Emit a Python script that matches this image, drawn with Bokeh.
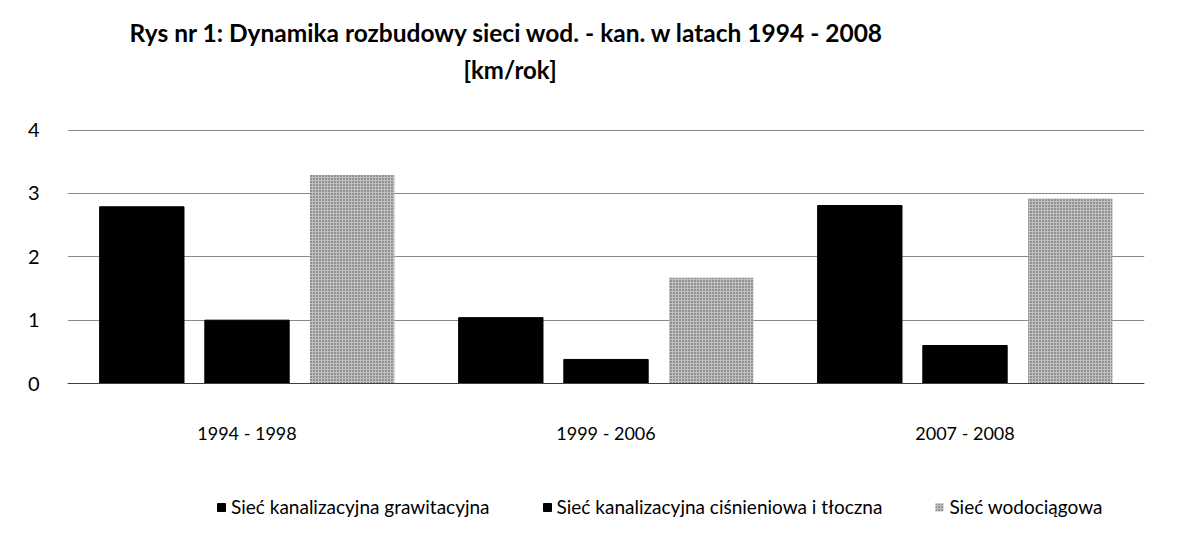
from bokeh.plotting import figure
from bokeh.models import (FactorRange, Range1d, Title, Legend, LegendItem, FixedTicker,
                          CategoricalAxis)
from bokeh.transform import dodge
from bokeh.embed import file_html
from bokeh.resources import INLINE

periods = ["1994 - 1998", "1999 - 2006", "2007 - 2008"]
series_names = ["Sieć kanalizacyjna grawitacyjna",
                "Sieć kanalizacyjna ciśnieniowa i tłoczna",
                "Sieć wodociągowa"]
grawitacyjna = [2.79, 1.04, 2.81]
cisnieniowa = [1.0, 0.38, 0.60]
wodociagowa = [3.29, 1.67, 2.92]
y_ticks = [0, 1, 2, 3, 4]
title_lines = ["Rys nr 1: Dynamika rozbudowy sieci wod. - kan. w latach 1994 - 2008",
               "[km/rok]"]

FONT = "Lato"

# frame extends below zero so the category labels and the legend sit inside it
p = figure(x_range=FactorRange(*periods, range_padding=0), y_range=Range1d(-2.131, 4.01),
           frame_width=1077, frame_height=389, output_backend="svg", toolbar_location=None,
           x_axis_location=None,
           min_border_left=67, min_border_right=19, min_border_top=129,
           min_border_bottom=0)
p.title = None
p.outline_line_color = None

data = dict(x=periods, g=grawitacyjna, c=cisnieniowa, w=wodociagowa)
r1 = p.vbar(x=dodge("x", -0.293, range=p.x_range), top="g", width=0.235, source=data,
            fill_color="black", line_color="black")
r2 = p.vbar(x=dodge("x", 0.0, range=p.x_range), top="c", width=0.235, source=data,
            fill_color="black", line_color="black")
r3 = p.vbar(x=dodge("x", 0.293, range=p.x_range), top="w", width=0.235, source=data,
            fill_color="#c0c0c0", line_color=None,
            hatch_pattern="dot", hatch_color="#4a4a4a", hatch_scale=3, hatch_weight=1)

p.xgrid.grid_line_color = None
p.ygrid.grid_line_color = "#8a8a8a"
p.ygrid.grid_line_width = 1
p.yaxis.ticker = FixedTicker(ticks=y_ticks)
p.yaxis.axis_line_color = None
p.yaxis.major_tick_line_color = None
p.yaxis.minor_tick_line_color = None
p.yaxis.major_tick_out = 0
p.yaxis.major_label_text_font = FONT
p.yaxis.major_label_text_font_size = "20px"
p.yaxis.major_label_text_color = "black"
p.yaxis.major_label_standoff = 28

xaxis = CategoricalAxis(fixed_location=0, axis_line_color="#404040",
                        major_tick_line_color=None, minor_tick_line_color=None,
                        major_label_text_font=FONT, major_label_text_font_size="18px",
                        major_label_text_color="black", major_label_standoff=32)
p.add_layout(xaxis, "below")

t2 = Title(text=title_lines[1], align="left", offset=396, standoff=92, text_font=FONT,
           text_font_size="24px", text_font_style="bold", text_color="black")
t1 = Title(text=title_lines[0], align="left", offset=62, standoff=-80, text_font=FONT,
           text_font_size="24.5px", text_font_style="bold", text_color="black")
p.add_layout(t2, "above")
p.add_layout(t1, "above")

legend = Legend(items=[LegendItem(label=series_names[0], renderers=[r1]),
                       LegendItem(label=series_names[1], renderers=[r2]),
                       LegendItem(label=series_names[2], renderers=[r3])],
                orientation="horizontal", location=(149, 0),
                label_text_font=FONT, label_text_font_size="19px",
                label_text_color="black", glyph_width=10, glyph_height=10,
                label_standoff=5, spacing=52, border_line_color=None,
                background_fill_alpha=0, padding=2, margin=0)
p.add_layout(legend, "center")

open("out.html", "w").write(file_html(p, INLINE))
